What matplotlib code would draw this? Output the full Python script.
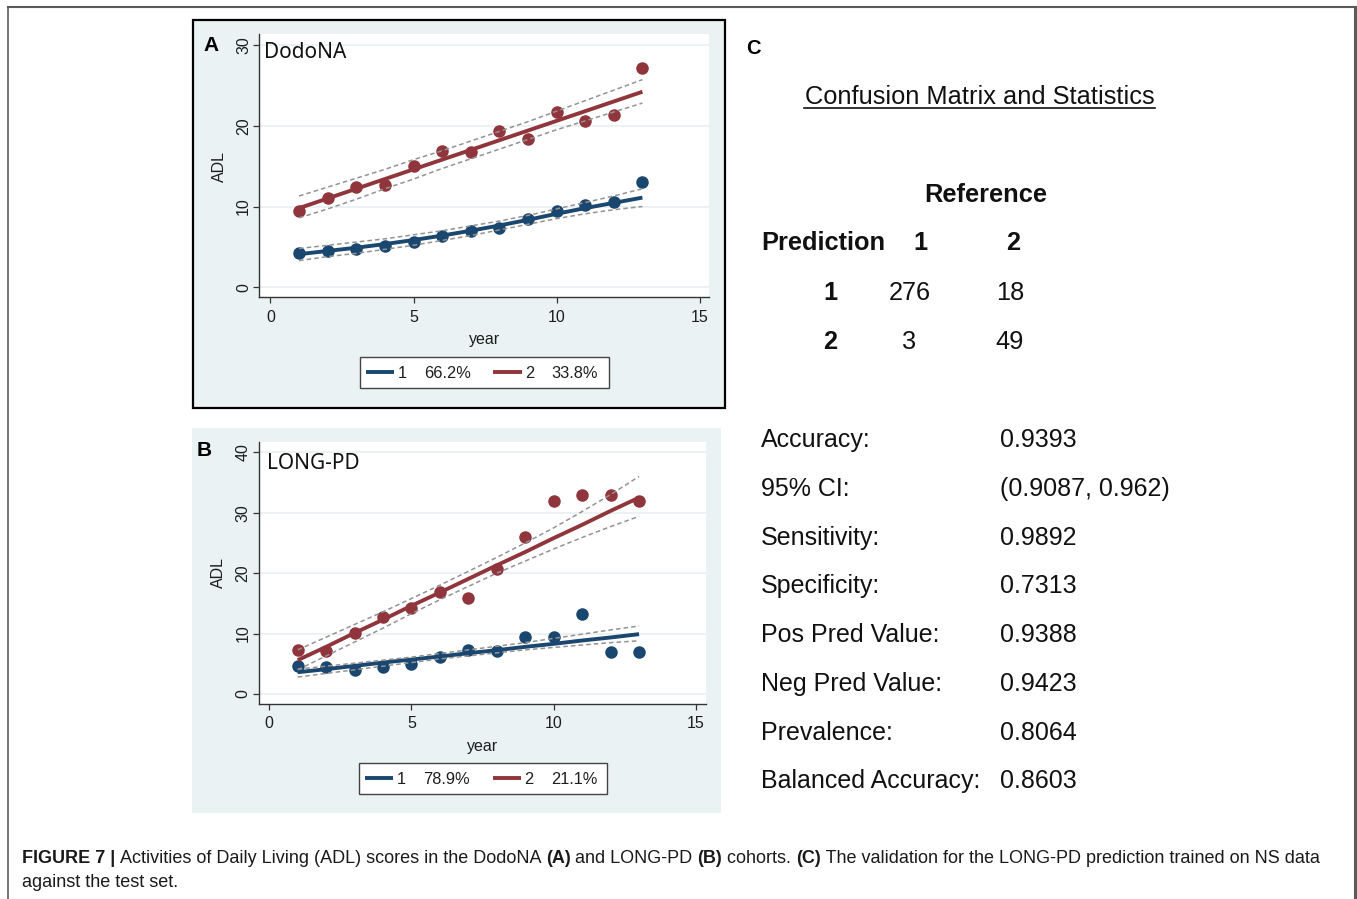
import matplotlib
matplotlib.use("Agg")
import matplotlib.pyplot as plt
from matplotlib.lines import Line2D
from matplotlib.patches import Rectangle

# ---------------- data ----------------
years = [1, 2, 3, 4, 5, 6, 7, 8, 9, 10, 11, 12, 13]

# Panel A: DodoNA
a_g1_obs = [4.3, 4.5, 4.7, 5.1, 5.6, 6.3, 7.0, 7.4, 8.4, 9.5, 10.2, 10.6, 13.0]
a_g1_fit = [4.1, 4.5, 4.9, 5.35, 5.85, 6.4, 7.0, 7.65, 8.35, 9.1, 9.8, 10.45, 11.1]
a_g1_hi = [4.8, 5.2, 5.6, 6.0, 6.5, 7.0, 7.6, 8.2, 8.9, 9.7, 10.5, 11.3, 12.2]
a_g1_lo = [3.3, 3.8, 4.2, 4.7, 5.2, 5.8, 6.4, 7.1, 7.8, 8.5, 9.1, 9.6, 10.0]
a_g2_obs = [9.4, 11.0, 12.4, 12.7, 15.0, 16.9, 16.7, 19.4, 18.4, 21.7, 20.6, 21.3, 27.2]
a_g2_fit = [9.8, 11.0, 12.2, 13.4, 14.6, 15.8, 17.0, 18.2, 19.4, 20.6, 21.8, 23.0, 24.2]
a_g2_hi = [11.3, 12.4, 13.5, 14.6, 15.8, 16.9, 18.1, 19.3, 20.5, 21.8, 23.1, 24.4, 25.7]
a_g2_lo = [8.6, 9.7, 10.9, 12.2, 13.4, 14.7, 15.9, 17.1, 18.3, 19.5, 20.6, 21.7, 22.8]
a_pct = ["66.2%", "33.8%"]

# Panel B: LONG-PD
b_g1_obs = [4.7, 4.4, 4.0, 4.5, 4.9, 6.1, 7.3, 7.1, 9.4, 9.4, 13.2, 7.0, 7.0]
b_g1_fit = [3.6, 4.1, 4.65, 5.2, 5.7, 6.2, 6.75, 7.25, 7.8, 8.3, 8.85, 9.35, 9.9]
b_g1_hi = [4.1, 4.6, 5.1, 5.6, 6.1, 6.7, 7.3, 7.9, 8.5, 9.2, 9.9, 10.6, 11.25]
b_g1_lo = [2.8, 3.4, 4.0, 4.6, 5.2, 5.8, 6.3, 6.8, 7.3, 7.7, 8.1, 8.5, 8.8]
b_g2_obs = [7.2, 7.1, 10.1, 12.8, 14.2, 16.8, 15.8, 20.7, 26.0, 32.0, 33.0, 33.0, 32.0]
b_g2_fit = [5.6, 7.8, 10.1, 12.3, 14.6, 16.8, 19.05, 21.3, 23.5, 25.8, 28.0, 30.3, 32.5]
b_g2_hi = [7.3, 9.4, 11.5, 13.6, 15.8, 18.0, 20.3, 22.6, 25.0, 27.5, 30.2, 33.0, 36.0]
b_g2_lo = [4.0, 6.3, 8.6, 10.9, 13.3, 15.6, 17.8, 20.0, 22.0, 24.0, 25.9, 27.7, 29.4]
b_pct = ["78.9%", "21.1%"]

group_labels = ["1", "2"]
xticks = [0, 5, 10, 15]
a_yticks = [0, 10, 20, 30]
b_yticks = [0, 10, 20, 30, 40]

# Panel C
cm_title = "Confusion Matrix and Statistics"
cm_classes = ["1", "2"]
cm_values = [["276", "18"], ["3", "49"]]
stat_names = ["Accuracy:", "95% CI:", "Sensitivity:", "Specificity:",
              "Pos Pred Value:", "Neg Pred Value:", "Prevalence:",
              "Balanced Accuracy:"]
stat_values = ["0.9393", "(0.9087, 0.962)", "0.9892", "0.7313",
               "0.9388", "0.9423", "0.8064", "0.8603"]

caption_parts = [
    ("FIGURE 7 | ", "bold"),
    ("Activities of Daily Living (ADL) scores in the DodoNA ", "normal"),
    ("(A)", "bold"),
    (" and LONG-PD ", "normal"),
    ("(B)", "bold"),
    (" cohorts. ", "normal"),
    ("(C)", "bold"),
    (" The validation for the LONG-PD prediction trained on NS data", "normal"),
]
caption_line2 = "against the test set."

# ---------------- style ----------------
W, H = 1357, 899
BG = "#eaf2f3"
NAVY = "#1a476f"
MAROON = "#90353b"
CI_C = "#939393"
AX_C = "#333333"
TXT = "#1e1e1e"
SANS = "Liberation Sans"
TICK_FS = 11.5

plt.rcParams["font.family"] = [SANS, "DejaVu Sans"]

fig = plt.figure(figsize=(W / 100, H / 100), dpi=100)


def fx(px):
    return px / W


def fy(py):
    return 1 - py / H


def ftext(x, y, s, **kw):
    return fig.text(fx(x), fy(y), s, **kw)


# outer figure frame
fig.add_artist(Line2D([fx(8), fx(1355)], [fy(7), fy(7)], color="#5a5a5a", lw=1.5))
fig.add_artist(Line2D([fx(8), fx(8)], [fy(7), fy(905)], color="#5a5a5a", lw=1.2))
fig.add_artist(Line2D([fx(1355), fx(1355)], [fy(7), fy(905)], color="#5a5a5a", lw=2.2))

# panel backgrounds
fig.add_artist(Rectangle((fx(193), fy(408)), (725 - 193) / W, (408 - 20) / H,
                         transform=fig.transFigure, facecolor=BG,
                         edgecolor="black", linewidth=1.6, zorder=-1))
fig.add_artist(Rectangle((fx(192), fy(813)), (721 - 192) / W, (813 - 428) / H,
                         transform=fig.transFigure, facecolor=BG,
                         edgecolor="none", zorder=-1))


def make_panel(box, xlim, ylim, yticks, g1, g2, name, name_xy):
    l, r, t, b = box
    ax = fig.add_axes([fx(l), fy(b), (r - l) / W, (b - t) / H])
    ax.set_facecolor("white")
    ax.set_xlim(*xlim)
    ax.set_ylim(*ylim)
    for s in ("top", "right"):
        ax.spines[s].set_visible(False)
    for s in ("left", "bottom"):
        ax.spines[s].set_color(AX_C)
        ax.spines[s].set_linewidth(1.0)
    ax.set_xticks(xticks)
    ax.set_yticks(yticks)
    ax.tick_params(axis="both", direction="out", length=4, width=0.9,
                   color=AX_C, labelsize=TICK_FS, labelcolor=TXT)
    ax.tick_params(axis="x", pad=5)
    ax.tick_params(axis="y", pad=2)
    for lbl in ax.get_yticklabels():
        lbl.set_rotation(90)
        lbl.set_va("center")
    ax.yaxis.grid(True, color=BG, lw=1.4)
    ax.set_axisbelow(True)
    for (obs, fit, hi, lo), col in ((g1, NAVY), (g2, MAROON)):
        ax.plot(years, obs, "o", color=col, ms=8, mec=col, zorder=3)
        ax.plot(years, fit, "-", color=col, lw=2.8, zorder=4,
                solid_capstyle="butt")
        ax.plot(years, hi, color=CI_C, lw=1.1, ls=(0, (3.0, 2.0)), zorder=5)
        ax.plot(years, lo, color=CI_C, lw=1.1, ls=(0, (3.0, 2.0)), zorder=5)
    ax.text(name_xy[0], name_xy[1], name, transform=None, fontsize=15,
            family=["Noto Sans", "DejaVu Sans"], color="#111111")
    return ax


axA = make_panel((259.3, 708.5, 34, 297.4), (-0.39, 15.31), (-1.25, 31.35),
                 a_yticks, (a_g1_obs, a_g1_fit, a_g1_hi, a_g1_lo),
                 (a_g2_obs, a_g2_fit, a_g2_hi, a_g2_lo), "DodoNA", (264, H - 57.5))
axB = make_panel((259, 706.2, 442, 704), (-0.36, 15.36), (-1.66, 41.7),
                 b_yticks, (b_g1_obs, b_g1_fit, b_g1_hi, b_g1_lo),
                 (b_g2_obs, b_g2_fit, b_g2_hi, b_g2_lo), "LONG-PD", (267, H - 468.7))

# axis titles
ftext(485, 340, "year", ha="center", va="center", fontsize=11.5, color=TXT)
ftext(219, 166, "ADL", ha="center", va="center", rotation=90, fontsize=11.5, color=TXT)
ftext(483, 746, "year", ha="center", va="center", fontsize=11.5, color=TXT)
ftext(218, 573, "ADL", ha="center", va="center", rotation=90, fontsize=11.5, color=TXT)


def legend_box(l, r, t, b, pcts):
    fig.add_artist(Rectangle((fx(l), fy(b)), (r - l) / W, (b - t) / H,
                             transform=fig.transFigure, facecolor="white",
                             edgecolor="#444444", linewidth=1.0, zorder=5))
    yc = (t + b) / 2
    base = yc + 6
    starts = [l + 6.5, l + 134]
    for i, col in enumerate((NAVY, MAROON)):
        x0 = starts[i]
        fig.add_artist(Line2D([fx(x0), fx(x0 + 28)], [fy(yc), fy(yc)],
                              color=col, lw=2.8, zorder=6, solid_capstyle="butt"))
        ftext(x0 + 36.5, base, group_labels[i], ha="center", va="baseline",
              fontsize=11.8, zorder=6, color=TXT)
        ftext(x0 + 81.5, base, pcts[i], ha="center", va="baseline",
              fontsize=11.8, zorder=6, color=TXT)


legend_box(359.5, 608.6, 356.7, 387.8, a_pct)
legend_box(358.6, 607.0, 763.0, 793.6, b_pct)

# panel letters
ftext(211.5, 51, "A", ha="center", va="baseline", fontsize=15, fontweight="bold")
ftext(203.7, 456, "B", ha="center", va="baseline", fontsize=15, fontweight="bold")
ftext(753.5, 53.5, "C", ha="center", va="baseline", fontsize=14.5, fontweight="bold")

# ---------------- panel C ----------------
ftext(979.5, 104, cm_title, ha="center", va="baseline", fontsize=18.3, color="#111111")
fig.add_artist(Line2D([fx(804), fx(1155)], [fy(108), fy(108)], color="#111111", lw=1.2))
ftext(985.5, 202, "Reference", ha="center", va="baseline", fontsize=18.3,
      fontweight="bold", color="#111111")
ftext(761, 250, "Prediction", ha="left", va="baseline", fontsize=18.3,
      fontweight="bold", color="#111111")
col_x = [920.5, 1013]
row_y = [300, 349]
for j, c in enumerate(cm_classes):
    ftext(col_x[j], 250, c, ha="center", va="baseline", fontsize=18.3,
          fontweight="bold", color="#111111")
val_x = [909.5, 1010]
for i, c in enumerate(cm_classes):
    ftext(830.5, row_y[i], c, ha="center", va="baseline", fontsize=18.3,
          fontweight="bold", color="#111111")
    for j in range(2):
        ftext(val_x[j], row_y[i], cm_values[i][j], ha="center", va="baseline",
              fontsize=18.3, color="#111111")

stat_base = [447, 496, 545, 593, 642, 691, 740, 788]
for name, val, yb in zip(stat_names, stat_values, stat_base):
    ftext(761, yb, name, ha="left", va="baseline", fontsize=18, color="#111111")
    ftext(1000, yb, val, ha="left", va="baseline", fontsize=18, color="#111111")

# ---------------- caption ----------------
renderer = fig.canvas.get_renderer()
xcur = 22
CAP_FS = 12.95
for s, w in caption_parts:
    tt = ftext(xcur, 863, s, ha="left", va="baseline", fontsize=CAP_FS,
               fontweight=w, color="#1a1a1a")
    bb = tt.get_window_extent(renderer=renderer)
    xcur += bb.width
ftext(22, 887, caption_line2, ha="left", va="baseline", fontsize=CAP_FS, color="#1a1a1a")

fig.savefig("out.png", dpi=100)
